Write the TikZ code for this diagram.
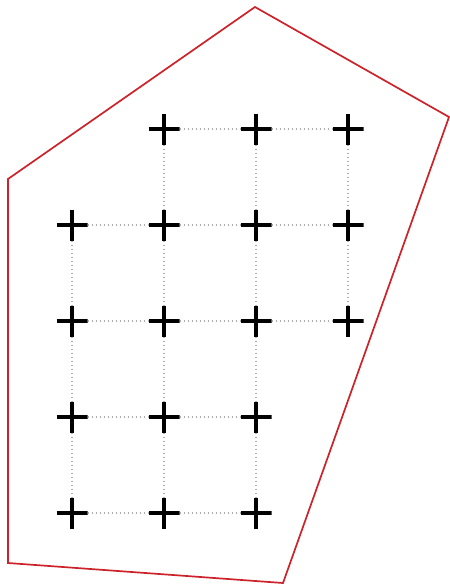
\documentclass[tikz,border=0pt]{standalone}
\usepackage{tikz}
\definecolor{hullred}{RGB}{204,34,41}

\begin{document}
\begin{tikzpicture}[x=1pt, y=-1pt,
    plusmark/.style={minimum size=31pt, inner sep=0pt,
      path picture={\draw[line width=3.2pt]
        (path picture bounding box.north) -- (path picture bounding box.south)
        (path picture bounding box.west) -- (path picture bounding box.east);}},
    gridlink/.style={gray!65, line width=1.5pt, dash pattern=on 1.5pt off 2.5pt},
    hull/.style={hullred, line width=1.7pt, line join=miter}]
    % 画布大小
    \useasboundingbox (0,0) rectangle (450,584);

    % 参数设置
    \def\xo{72} % 第一列 x
    \def\yo{129} % 第一行 y
    \def\dx{92} % 列间距
    \def\dy{96} % 行间距

    % 凸包
    \draw[hull] (255,7) -- (449,117) -- (283,583) -- (8,563) -- (8,179) -- cycle;

    % 点（列/行）
    \foreach \c/\r in {2/1,3/1,4/1, 1/2,2/2,3/2,4/2, 1/3,2/3,3/3,4/3, 1/4,2/4,3/4, 1/5,2/5,3/5} {
      \node[plusmark] (p\c\r) at ({\xo+(\c-1)*\dx},{\yo+(\r-1)*\dy}) {};
    }

    % 横向连线
    \foreach \a/\b in {p21/p31, p31/p41, p12/p22, p22/p32, p32/p42, p13/p23, p23/p33, p33/p43,
                       p14/p24, p24/p34, p15/p25, p25/p35} {
      \draw[gridlink] (\a) -- (\b);
    }

    % 纵向连线
    \foreach \a/\b in {p12/p13, p13/p14, p14/p15, p21/p22, p22/p23, p23/p24, p24/p25,
                       p31/p32, p32/p33, p33/p34, p34/p35, p41/p42, p42/p43} {
      \draw[gridlink] (\a) -- (\b);
    }

  \end{tikzpicture}
\end{document}
